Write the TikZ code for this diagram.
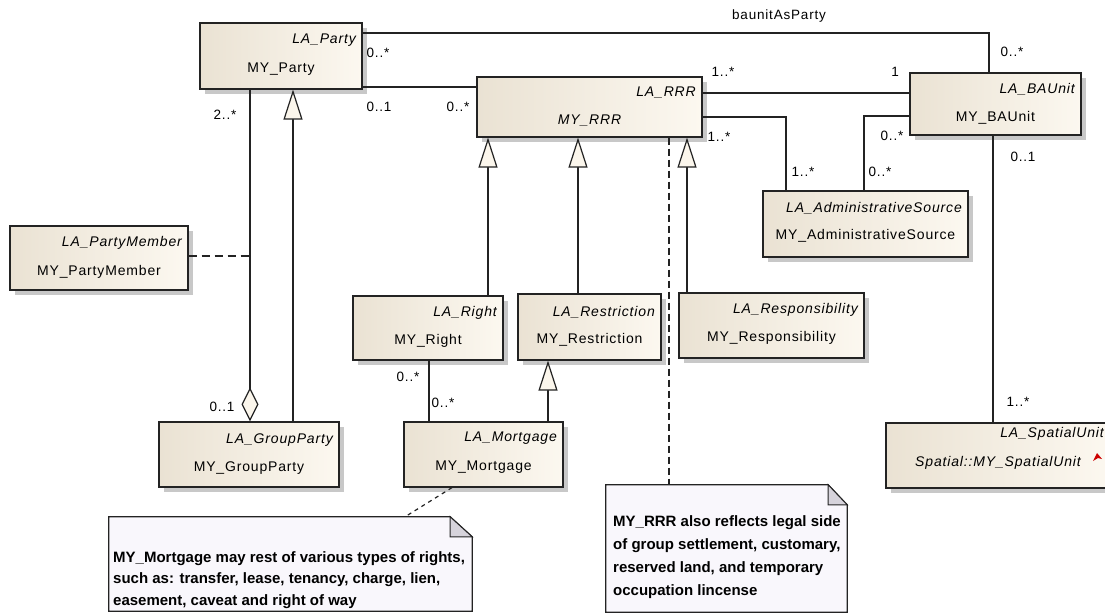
\documentclass[tikz,border=0pt]{standalone}
\usepackage{fontspec}
\setmainfont{Liberation Sans}[LetterSpace=6]
\newfontfamily\notefont{Liberation Sans}
\usetikzlibrary{arrows.meta,calc}
\definecolor{boxL}{RGB}{234,226,211}
\definecolor{boxR}{RGB}{252,248,240}
\definecolor{shadowc}{RGB}{200,200,200}
\definecolor{linec}{RGB}{35,35,35}
\definecolor{notebg}{RGB}{249,247,252}
\definecolor{foldc}{RGB}{214,211,219}
\definecolor{trifill}{RGB}{251,246,236}
\newcommand\umlcls[9]{%
  \fill[shadowc] ({#2+5},{#3+5}) rectangle ({#4+5},{#5+5});
  \node[classbox, minimum width={(#4-#2)*1pt}, minimum height={(#5-#3)*1pt}] (#1) at ({(#2+#4)/2},{(#3+#5)/2}) {};
  \node[ctext, anchor=east] (#1-la) at ({#4-6},#6) {\itshape #8};
  \node[ctext] (#1-my) at ({(#2+#4)/2},#7) {#9};
}
\begin{document}
\begin{tikzpicture}[x=1pt,y=-1pt,
  classbox/.style={draw=linec, line width=1.2pt, left color=boxL, right color=boxR, inner sep=0},
  ctext/.style={font=\fontsize{14}{16}\selectfont, inner sep=0},
  mult/.style={font=\fontsize{13.5}{15}\selectfont, inner sep=0},
  conn/.style={draw=linec, line width=1.2pt},
  gen/.style={conn, -{Triangle[length=30pt, width=19pt, fill=trifill]}},
  agg/.style={conn, -{Diamond[length=34pt, width=17pt, fill=trifill]}},
  dashlink/.style={conn, dash pattern=on 7pt off 4pt},
  notebox/.style={inner sep=0},
  notestyle/.style={draw=linec, line width=1.2pt, fill=notebg},
  foldstyle/.style={draw=linec, line width=1pt, fill=foldc},
  notetext/.style={inner sep=0, align=left, font=\notefont\bfseries\fontsize{15}{21.5}\selectfont},
]
\useasboundingbox (0,0) rectangle (1105,613);
\clip (0,0) rectangle (1105,613);
\fill[white] (0,0) rectangle (1105,613);

% classes
\umlcls{party}{200}{23}{362}{89}{40}{69}{LA\_Party}{MY\_Party}
\umlcls{rrr}{477}{77}{702}{137}{93}{121}{LA\_RRR}{\itshape MY\_RRR}
\umlcls{baunit}{910}{73}{1081}{135}{89}{118}{LA\_BAUnit}{MY\_BAUnit}
\umlcls{admin}{763}{191}{968}{257}{208}{236}{LA\_AdministrativeSource}{MY\_AdministrativeSource}
\umlcls{pmember}{10}{226}{188}{290}{243}{272}{LA\_PartyMember}{MY\_PartyMember}
\umlcls{gparty}{159}{422}{339}{487}{440}{468}{LA\_GroupParty}{MY\_GroupParty}
\umlcls{right}{353}{296}{503}{360}{313}{341}{LA\_Right}{MY\_Right}
\umlcls{restr}{518}{294}{661}{360}{312}{340}{LA\_Restriction}{MY\_Restriction}
\umlcls{resp}{679}{293}{864}{358}{310}{338}{LA\_Responsibility}{MY\_Responsibility}
\umlcls{mort}{404}{422}{563}{487}{438}{467}{LA\_Mortgage}{MY\_Mortgage}
\umlcls{spatial}{886}{423}{1110}{488}{434}{463}{LA\_SpatialUnit}{\itshape Spatial::MY\_SpatialUnit}
\fill[red!80!black] (1093,461) -- (1097,453) -- (1102,459) -- (1098,458) -- cycle;

% notes
\node[notebox, minimum width=363pt, minimum height=94pt] (note1) at ({(109+472)/2},{(517+611)/2}) {};
\filldraw[notestyle] (note1.north west) -- ($(note1.north east)+(-22,0)$) -- ($(note1.north east)+(0,20)$) -- (note1.south east) -- (note1.south west) -- cycle;
\filldraw[foldstyle] ($(note1.north east)+(-22,0)$) -- ($(note1.north east)+(-22,20)$) -- ($(note1.north east)+(0,20)$) -- cycle;
\node[notetext, anchor=north west] (note1-text) at (113,551) {MY\_Mortgage may rest of various types of rights,\\such as: transfer, lease, tenancy, charge, lien,\\easement, caveat and right of way};

\node[notebox, minimum width=241pt, minimum height=127pt] (note2) at ({(606+847)/2},{(485+612)/2}) {};
\filldraw[notestyle] (note2.north west) -- ($(note2.north east)+(-19,0)$) -- ($(note2.north east)+(0,20)$) -- (note2.south east) -- (note2.south west) -- cycle;
\filldraw[foldstyle] ($(note2.north east)+(-19,0)$) -- ($(note2.north east)+(-19,20)$) -- ($(note2.north east)+(0,20)$) -- cycle;
\node[notetext, anchor=north west, font=\notefont\bfseries\fontsize{15}{23}\selectfont] (note2-text) at (613,515) {MY\_RRR also reflects legal side\\of group settlement, customary,\\reserved land, and temporary\\occupation lincense};

% connectors
\draw[conn] (party.east |- 0,33) -| (989,0 |- baunit.north);
\draw[conn] (party.east |- 0,87) -- (rrr.west |- 0,87);
\draw[conn] (rrr.east |- 0,93) -- (baunit.west |- 0,93);
\draw[conn] (rrr.east |- 0,117) -| (786,0 |- admin.north);
\draw[conn] (baunit.west |- 0,116) -| (864,0 |- admin.north);
\draw[conn] (993,0 |- baunit.south) -- (993,0 |- spatial.north);
\draw[agg] (250,0 |- party.south) -- (250,0 |- gparty.north);
\draw[gen] (293,0 |- gparty.north) -- (293,0 |- party.south);
\coordinate (aggpt) at (250,256);
\draw[dashlink, dash pattern=on 8pt off 5pt] (pmember.east |- aggpt) -- (aggpt);
\draw[gen] (488,0 |- right.north) -- (488,0 |- rrr.south);
\draw[gen] (578,0 |- restr.north) -- (578,0 |- rrr.south);
\draw[gen] (687,0 |- resp.north) -- (687,0 |- rrr.south);
\draw[gen] (548,0 |- mort.north) -- (548,0 |- restr.south);
\draw[conn] (429,0 |- right.south) -- (429,0 |- mort.north);
\draw[dashlink] (669,0 |- rrr.south) -- (669,0 |- note2.north);
\draw[dashlink, dash pattern=on 4pt off 4pt] (452,0 |- mort.south) -- (405,0 |- note1.north);

% labels
\node[mult] (l-bap) at (779,16) {baunitAsParty};
\node[mult] (l1) at (378,53) {0..*};
\node[mult] (l2) at (379,107) {0..1};
\node[mult] (l3) at (458,107) {0..*};
\node[mult] (l4) at (225,115) {2..*};
\node[mult] (l5) at (723,72) {1..*};
\node[mult] (l6) at (895,72) {1};
\node[mult] (l7) at (1012,52) {0..*};
\node[mult] (l8) at (719,137) {1..*};
\node[mult] (l9) at (803,172) {1..*};
\node[mult] (l10) at (892,136) {0..*};
\node[mult] (l11) at (880,172) {0..*};
\node[mult] (l12) at (1023,157) {0..1};
\node[mult] (l13) at (1018,402) {1..*};
\node[mult] (l14) at (222,407) {0..1};
\node[mult] (l15) at (408,377) {0..*};
\node[mult] (l16) at (443,403) {0..*};
\end{tikzpicture}
\end{document}
